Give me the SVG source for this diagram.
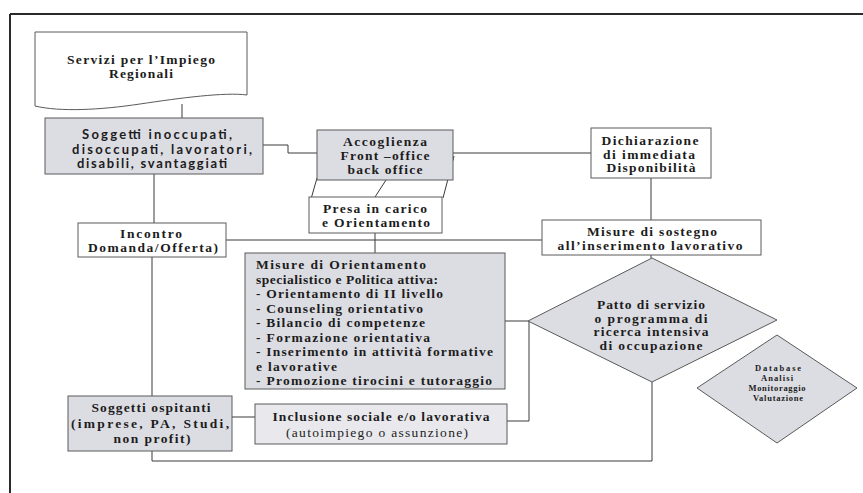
<svg xmlns="http://www.w3.org/2000/svg" width="863" height="493" viewBox="0 0 863 493">
<style>
.bg{fill:#ffffff}
.box{stroke:#5a5a5a;stroke-width:1}
.g{fill:#dcdde3}
.gl{fill:#e9e9ed}
.w{fill:#ffffff}
.t{font-family:"Liberation Serif","Times New Roman",serif;font-weight:bold;font-size:13.5px;fill:#1c1c1c;text-anchor:middle}
.tl{font-family:"Liberation Serif","Times New Roman",serif;font-weight:bold;font-size:13.5px;fill:#1c1c1c}
.tr{font-family:"Liberation Serif","Times New Roman",serif;font-weight:normal;font-size:13.5px;fill:#1c1c1c;text-anchor:middle}
.ts{font-family:"Liberation Serif","Times New Roman",serif;font-weight:bold;font-size:8.5px;fill:#1c1c1c;text-anchor:middle}
.tg{font-family:"Lato","DejaVu Sans",sans-serif;font-weight:bold;font-size:13px;fill:#1c1c1c;text-anchor:middle}
.c{fill:none;stroke:#3a3a3a;stroke-width:1}
</style>
<rect class="bg" x="0" y="0" width="863" height="493"/>
<g id="frame">
<line x1="10" y1="14" x2="863" y2="14" stroke="#2a2a2a" stroke-width="2"/>
<line x1="10" y1="14" x2="10" y2="493" stroke="#2a2a2a" stroke-width="2"/>
</g>
<g id="connectors">
<line class="c" x1="182" y1="104" x2="182" y2="118"/>
<polyline class="c" points="263,145 288,145 288,153 317,153"/>
<line class="c" x1="453" y1="153" x2="591" y2="153"/>
<line class="c" x1="651" y1="178" x2="651" y2="220"/>
<line class="c" x1="317" y1="178" x2="311" y2="199"/>
<line class="c" x1="386" y1="180" x2="375" y2="197"/>
<line class="c" x1="454" y1="156" x2="443" y2="198"/>
<line class="c" x1="375" y1="233" x2="375" y2="253"/>
<line class="c" x1="226" y1="240" x2="542" y2="240"/>
<line class="c" x1="154" y1="174" x2="154" y2="223"/>
<line class="c" x1="152" y1="257" x2="152" y2="396"/>
<line class="c" x1="651" y1="255" x2="651" y2="258"/>
<line class="c" x1="505" y1="321" x2="528" y2="321"/>
<polyline class="c" points="529,321 529,421 507,421"/>
<line class="c" x1="232" y1="417" x2="255" y2="417"/>
<polyline class="c" points="652,382 652,461 152,461 152,451" stroke-width="1.5"/>
</g>
<g id="servizi">
<path class="box w" d="M35,32 H247 V95 C225,92 180,98 140,104 C100,110 60,112 35,106 Z"/>
<text class="t" x="141" y="64" textLength="148">Servizi per l’Impiego</text>
<text class="t" x="141" y="78" textLength="64">Regionali</text>
</g>
<g id="soggetti">
<rect class="box g" x="45" y="118" width="218" height="56"/>
<text class="tg" x="157" y="139" textLength="150">Soggetti inoccupati,</text>
<text class="tg" x="162" y="153.5" textLength="180">disoccupati, lavoratori,</text>
<text class="tg" x="152" y="168" textLength="150">disabili, svantaggiati</text>
</g>
<g id="accoglienza">
<rect class="box g" x="317" y="130" width="136" height="50"/>
<text class="t" x="385" y="146" textLength="84">Accoglienza</text>
<text class="t" x="385" y="160" textLength="89">Front –office</text>
<text class="t" x="385" y="174" textLength="75">back office</text>
</g>
<g id="presa">
<rect class="box w" x="309" y="197" width="133" height="36"/>
<text class="t" x="375" y="213" textLength="104">Presa in carico</text>
<text class="t" x="376" y="227" textLength="108">e Orientamento</text>
</g>
<g id="dichiarazione">
<rect class="box w" x="591" y="128" width="120" height="50"/>
<text class="t" x="650" y="145" textLength="97">Dichiarazione</text>
<text class="t" x="649" y="158.5" textLength="92">di immediata</text>
<text class="t" x="651" y="172" textLength="89">Disponibilità</text>
</g>
<g id="sostegno">
<rect class="box w" x="542" y="220" width="219" height="35"/>
<text class="t" x="652" y="236" textLength="130">Misure di sostegno</text>
<text class="t" x="650" y="249.5" textLength="185">all’inserimento lavorativo</text>
</g>
<g id="incontro">
<rect class="box w" x="78" y="223" width="148" height="34"/>
<text class="t" x="151" y="238" textLength="62">Incontro</text>
<text class="t" x="153" y="252" textLength="130" font-size="12">Domanda/Offerta)</text>
</g>
<g id="orientamento">
<rect class="box g" x="245" y="253" width="260" height="136"/>
<text class="tl" x="256" y="269" textLength="170">Misure di Orientamento</text>
<text class="tl" x="256" y="283.5" textLength="182">specialistico e Politica attiva:</text>
<text class="tl" x="256" y="298" textLength="187">- Orientamento di II livello</text>
<text class="tl" x="256" y="312.5" textLength="167">- Counseling orientativo</text>
<text class="tl" x="256" y="327" textLength="169">- Bilancio di competenze</text>
<text class="tl" x="256" y="341.5" textLength="174">- Formazione orientativa</text>
<text class="tl" x="256" y="356" textLength="237">- Inserimento in attività formative</text>
<text class="tl" x="256" y="370.5" textLength="81">e lavorative</text>
<text class="tl" x="256" y="385" textLength="236">- Promozione tirocini e tutoraggio</text>
</g>
<g id="patto">
<polygon class="box g" points="652,258 777,320 652,382 528,321"/>
<text class="t" x="651" y="309" textLength="108">Patto di servizio</text>
<text class="t" x="651" y="322.5" textLength="113">o programma di</text>
<text class="t" x="651" y="336" textLength="115">ricerca intensiva</text>
<text class="t" x="651" y="349.5" textLength="103">di occupazione</text>
</g>
<g id="database">
<polygon class="box g" points="777,335 857,388 777,443 697,388"/>
<text class="ts" x="778" y="371" textLength="46">Database</text>
<text class="ts" x="777" y="381" textLength="32">Analisi</text>
<text class="ts" x="777" y="391" textLength="57">Monitoraggio</text>
<text class="ts" x="778" y="401" textLength="50">Valutazione</text>
</g>
<g id="ospitanti">
<rect class="box g" x="68" y="396" width="164" height="55"/>
<text class="t" x="151" y="412" textLength="119">Soggetti ospitanti</text>
<text class="t" x="150" y="428" textLength="158">(imprese, PA, Studi,</text>
<text class="t" x="152" y="443" textLength="77">non profit)</text>
</g>
<g id="inclusione">
<rect class="box gl" x="255" y="404" width="252" height="40"/>
<text class="t" x="381" y="421" textLength="217">Inclusione sociale e/o lavorativa</text>
<text class="tr" x="377" y="437" textLength="182">(autoimpiego o assunzione)</text>
</g>
</svg>
